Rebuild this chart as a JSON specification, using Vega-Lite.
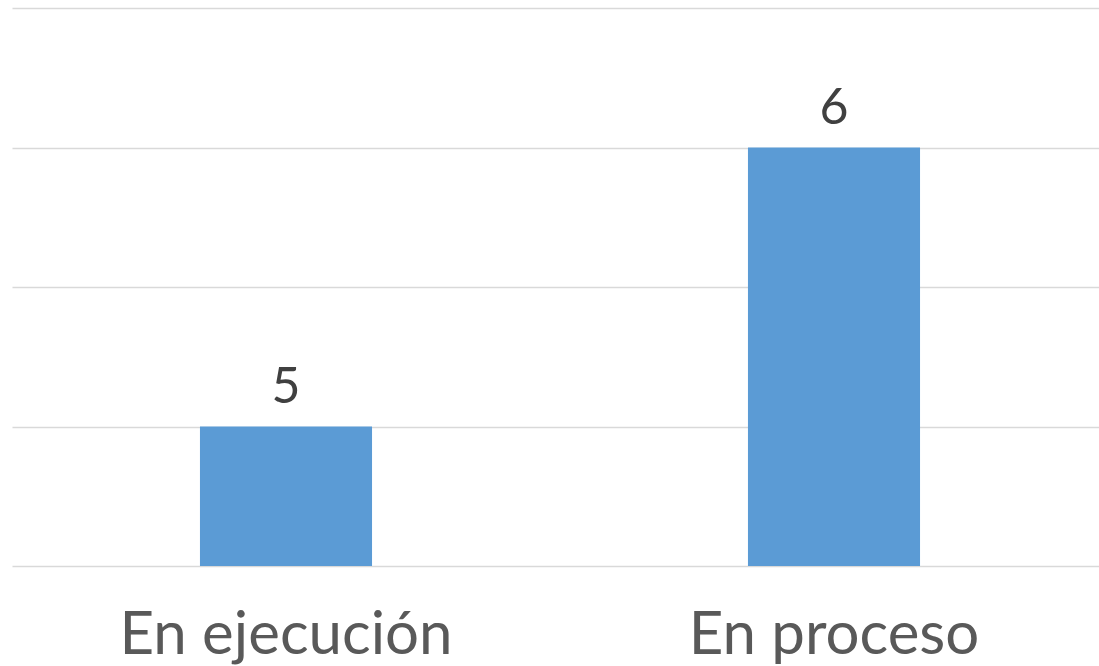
{
  "$schema": "https://vega.github.io/schema/vega-lite/v6.json",
  "width": 1096,
  "height": 558,
  "autosize": {"type": "none"},
  "padding": {"left": 12, "top": 8, "right": 0, "bottom": 100},
  "background": "white",
  "config": {"view": {"stroke": null}},
  "data": {"values": [
    {"estado": "En ejecución", "cantidad": 5},
    {"estado": "En proceso", "cantidad": 6}
  ]},
  "encoding": {
    "x": {
      "field": "estado", "type": "nominal", "sort": null,
      "scale": {"paddingInner": 0.686, "paddingOuter": 0.343},
      "axis": {"title": null, "domain": false, "ticks": false, "labelAngle": 0,
               "labelFont": "Lato", "labelFontSize": 60, "labelColor": "#595959",
               "labelPadding": 87, "labelBaseline": "alphabetic", "labelFontWeight": 400,
               "labelLimit": 0, "labelOverlap": false}
    },
    "y": {
      "field": "cantidad", "type": "quantitative",
      "scale": {"domain": [4.5, 6.5], "zero": false, "nice": false},
      "axis": {"values": [4.5, 5, 5.5, 6, 6.5], "grid": true, "labels": false, "ticks": false,
               "domain": false, "title": null, "gridColor": "#d9d9d9", "gridWidth": 1.5}
    }
  },
  "layer": [
    {"mark": {"type": "bar", "color": "#5B9BD5"}, "encoding": {"y2": {"datum": 4.5}}},
    {"mark": {"type": "text", "baseline": "alphabetic", "dy": -24, "font": "Lato", "fontSize": 50,
              "fontWeight": 400, "color": "#404040"},
     "encoding": {"text": {"field": "cantidad", "type": "quantitative"}}}
  ]
}
